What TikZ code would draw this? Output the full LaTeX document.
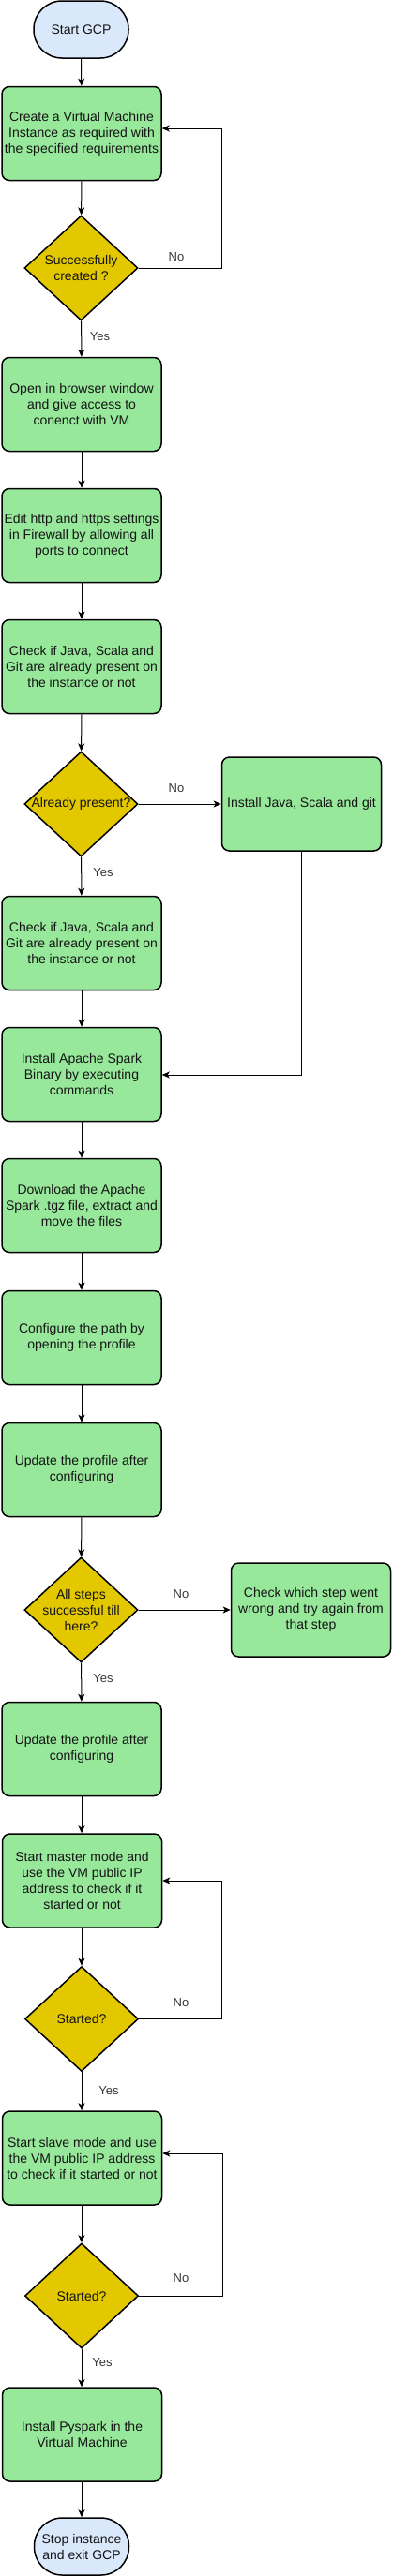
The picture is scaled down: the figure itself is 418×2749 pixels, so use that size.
\documentclass[tikz,border=0pt]{standalone}
\usepackage{fontspec}
\setmainfont{Liberation Sans}
\usetikzlibrary{shapes.geometric,arrows.meta,calc}
\definecolor{boxgreen}{RGB}{151,232,155}
\definecolor{decyellow}{RGB}{227,200,0}
\definecolor{termblue}{RGB}{218,232,252}
\definecolor{inkcol}{RGB}{20,20,20}
\begin{document}
\begin{tikzpicture}[x=1pt,y=-1pt,
  every node/.style={font=\fontsize{14}{17}\selectfont, text=inkcol},
  procbox/.style={draw=black, line width=1.5pt, fill=boxgreen, rounded corners=8pt, minimum width=170pt, minimum height=100pt, align=center, inner sep=0pt},
  decbox/.style={draw=black, line width=1.5pt, fill=decyellow, diamond, minimum width=121pt, minimum height=112pt, inner sep=0pt},
  termbox/.style={draw=black, line width=1.5pt, fill=termblue, rounded corners=30pt, minimum width=101pt, minimum height=61pt, align=center, inner sep=0pt},
  flow/.style={draw=black, line width=1pt, -{Stealth[length=8pt,width=7pt,inset=2pt]}},
  edgelabel/.style={font=\fontsize{13}{15}\selectfont, text=inkcol!85}
]
\fill[white] (0,0) rectangle (418,2749);
\useasboundingbox (0,0) rectangle (418,2749);

% nodes
\node[termbox] (start) at (86.5,31.5) {Start GCP};
\node[procbox] (b1) at (87,142.5) {Create a Virtual Machine\\Instance as required with\\the specified requirements};
\node[decbox, label={[align=center]center:Successfully\\created ?}] (d1) at (86.5,286) {};
\node[procbox] (b2) at (87,431.5) {Open in browser window\\and give access to\\conenct with VM};
\node[procbox] (b3) at (87,571.5) {Edit http and https settings\\in Firewall by allowing all\\ports to connect};
\node[procbox] (b4) at (87,711.5) {Check if Java, Scala and\\Git are already present on\\the instance or not};
\node[decbox, label={[align=center]center:Already present?}] (d2) at (86.5,858) {};
\node[procbox] (inst) at (321.5,858) {Install Java, Scala and git};
\node[procbox] (b5) at (87,1006.5) {Check if Java, Scala and\\Git are already present on\\the instance or not};
\node[procbox] (b6) at (87,1146.5) {Install Apache Spark\\Binary by executing\\commands};
\node[procbox] (b7) at (87,1286.5) {Download the Apache\\Spark .tgz file, extract and\\move the files};
\node[procbox] (b8) at (87,1427.5) {Configure the path by\\opening the profile};
\node[procbox] (b9) at (87,1568.5) {Update the profile after\\configuring};
\node[decbox, label={[align=center]center:All steps\\successful till\\here?}] (d3) at (86.5,1718) {};
\node[procbox] (chk) at (331.5,1718) {Check which step went\\wrong and try again from\\that step};
\node[procbox] (b10) at (87,1866.5) {Update the profile after\\configuring};
\node[procbox] (b11) at (87.5,2007) {Start master mode and\\use the VM public IP\\address to check if it\\started or not};
\node[decbox, label={[align=center]center:Started?}] (d4) at (87,2154.5) {};
\node[procbox] (b12) at (87.5,2303) {Start slave mode and use\\the VM public IP address\\to check if it started or not};
\node[decbox, label={[align=center]center:Started?}] (d5) at (87,2450) {};
\node[procbox] (b13) at (87.5,2598) {Install Pyspark in the\\Virtual Machine};
\node[termbox] (stop) at (87,2717.5) {Stop instance\\and exit GCP};

% loop corner coordinates
\coordinate (c1) at (236,137);
\coordinate (c2) at (321,1147);
\coordinate (c4) at (236,2007);
\coordinate (c5) at (237,2298);

% connectors
\draw[flow] (start) -- (b1);
\draw[flow] (b1) -- (d1);
\draw[flow] (d1) -- (b2);
\draw[flow] (d1.east) -| (c1) -- (b1.east |- c1);
\draw[flow] (b2) -- (b3);
\draw[flow] (b3) -- (b4);
\draw[flow] (b4) -- (d2);
\draw[flow] (d2) -- (inst);
\draw[flow] (d2) -- (b5);
\draw[flow] (inst.south -| c2) -- (c2) -- (b6.east |- c2);
\draw[flow] (b5) -- (b6);
\draw[flow] (b6) -- (b7);
\draw[flow] (b7) -- (b8);
\draw[flow] (b8) -- (b9);
\draw[flow] (b9) -- (d3);
\draw[flow] (d3) -- (chk);
\draw[flow] (d3) -- (b10);
\draw[flow] (b10.south -| d4) -- (b11.north -| d4);
\draw[flow] (b11.south -| d4) -- (d4);
\draw[flow] (d4.east) -| (c4) -- (b11.east |- c4);
\draw[flow] (d4) -- (b12.north -| d4);
\draw[flow] (b12.south -| d5) -- (d5);
\draw[flow] (d5.east) -| (c5) -- (b12.east |- c5);
\draw[flow] (d5) -- (b13.north -| d5);
\draw[flow] (b13.south -| stop) -- (stop);

% edge labels
\node[edgelabel] (l1n) at (188,274) {No};
\node[edgelabel] (l1y) at (106.5,359) {Yes};
\node[edgelabel] (l2n) at (188,841) {No};
\node[edgelabel] (l2y) at (110,931) {Yes};
\node[edgelabel] (l3n) at (193,1701) {No};
\node[edgelabel] (l3y) at (110,1791) {Yes};
\node[edgelabel] (l4n) at (193,2137) {No};
\node[edgelabel] (l4y) at (116,2231) {Yes};
\node[edgelabel] (l5n) at (193,2431) {No};
\node[edgelabel] (l5y) at (109,2521) {Yes};
\end{tikzpicture}
\end{document}
